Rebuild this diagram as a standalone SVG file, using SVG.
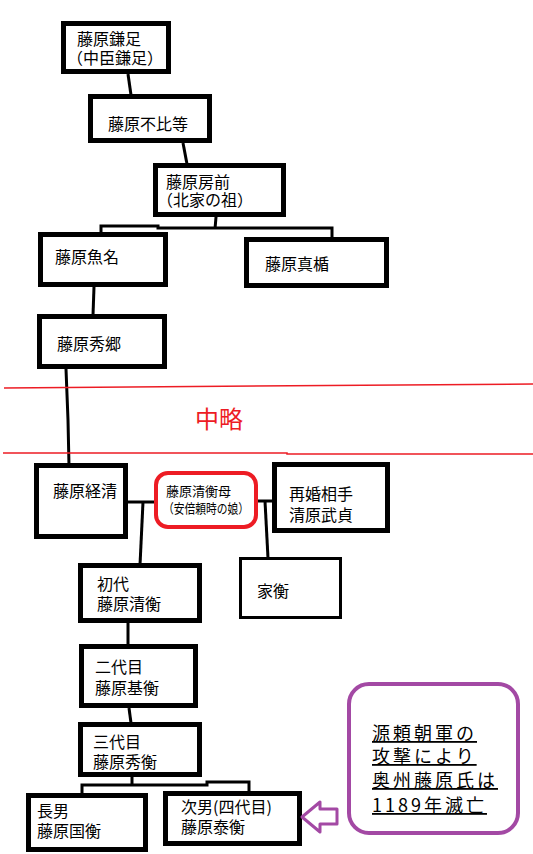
<svg xmlns="http://www.w3.org/2000/svg" width="533" height="854" viewBox="0 0 533 854">
<style>
.box{fill:#fff;stroke:#000;stroke-width:5}
.thin{fill:#fff;stroke:#000;stroke-width:3}
.t{font-family:"Noto Sans CJK JP","Noto Sans",sans-serif;font-size:16px;fill:#000}
.s{font-family:"Noto Sans CJK JP","Noto Sans",sans-serif;font-size:13px;fill:#000}
.n{font-family:"Noto Sans CJK JP","Noto Sans",sans-serif;font-size:18px;fill:#000;letter-spacing:3px;text-decoration:underline}
.c{fill:none;stroke:#000;stroke-width:3}
.r{fill:none;stroke:#ed1c24;stroke-width:1.5}
</style>
<rect width="533" height="854" fill="#fff"/>
<g id="connectors">
<path class="c" d="M128,74 L131,95"/>
<path class="c" d="M183,143 L187,164"/>
<path class="c" d="M216,217 L215,229"/>
<path class="c" d="M101,233 L101,226 L158,226 L158,228 L332,228 L332,238"/>
<path class="c" d="M94,287 L93,315"/>
<path class="c" d="M66,369 L68,420 L69,466"/>
<path class="c" d="M125,502 L156,502"/>
<path class="c" d="M143,502 L140,565"/>
<path class="c" d="M256,501 L274,501"/>
<path class="c" d="M265,501 L268,558"/>
<path class="c" d="M128,623 L128,645"/>
<path class="c" d="M129,708 L131,723"/>
<path class="c" d="M132,777 L132,784"/>
<path class="c" d="M82,795 L82,785 L207,785 L207,782 L249,782 L249,794"/>
</g>
<g id="separator">
<path class="r" d="M4,388 L533,384"/>
<path class="r" d="M3,453 L287,453 L287,454 L533,454"/>
<text x="195" y="428" font-family="'Noto Sans CJK JP','Noto Sans',sans-serif" font-size="24" fill="#ed1c24">中略</text>
</g>
<g id="kamatari"><rect class="box" x="63.5" y="23.5" width="105" height="48"/><text class="t" x="77" y="45">藤原鎌足</text><text class="t" x="67" y="64">（中臣鎌足）</text></g>
<g id="fuhito"><rect class="box" x="90.5" y="96.5" width="119" height="44"/><text class="t" x="108" y="130">藤原不比等</text></g>
<g id="fusasaki"><rect class="box" x="155.5" y="165.5" width="128" height="49"/><text class="t" x="166" y="188">藤原房前</text><text class="t" x="157" y="206">（北家の祖）</text></g>
<g id="uona"><rect class="box" x="40.5" y="234.5" width="125" height="50"/><text class="t" x="55" y="263">藤原魚名</text></g>
<g id="matate"><rect class="box" x="246.5" y="239.5" width="140" height="46"/><text class="t" x="265" y="270">藤原真楯</text></g>
<g id="hidesato"><rect class="box" x="39.5" y="316.5" width="125" height="50"/><text class="t" x="57" y="350">藤原秀郷</text></g>
<g id="tsunekiyo"><rect class="box" x="36.5" y="465.5" width="89" height="71"/><text class="t" x="53" y="497">藤原経清</text></g>
<g id="mother"><rect x="156" y="473" width="100" height="54" rx="12" fill="#fff" stroke="#ed1c24" stroke-width="4"/><text class="s" x="166" y="496">藤原清衡母</text><text class="s" x="163" y="513" textLength="86" lengthAdjust="spacingAndGlyphs">（安倍頼時の娘）</text></g>
<g id="takesada"><rect class="box" x="274.5" y="464.5" width="113" height="66"/><text class="t" x="289" y="500">再婚相手</text><text class="t" x="289" y="521">清原武貞</text></g>
<g id="kiyohira"><rect class="box" x="80.5" y="565.5" width="119" height="55"/><text class="t" x="97" y="590">初代</text><text class="t" x="97" y="610">藤原清衡</text></g>
<g id="iehira"><rect class="thin" x="240.5" y="558.5" width="100" height="59"/><text class="t" x="257" y="597" font-size="17">家衡</text></g>
<g id="motohira"><rect class="box" x="81.5" y="646.5" width="114" height="59"/><text class="t" x="95" y="673">二代目</text><text class="t" x="95" y="694">藤原基衡</text></g>
<g id="hidehira"><rect class="box" x="80.5" y="724.5" width="119" height="50"/><text class="t" x="93" y="748">三代目</text><text class="t" x="93" y="768">藤原秀衡</text></g>
<g id="kunihira"><rect class="box" x="28.5" y="795.5" width="117" height="54"/><text class="t" x="37" y="817">長男</text><text class="t" x="37" y="837">藤原国衡</text></g>
<g id="yasuhira"><rect class="box" x="165.5" y="793.5" width="134" height="50"/><text class="t" x="181" y="813">次男(四代目)</text><text class="t" x="181" y="833">藤原泰衡</text></g>
<g id="arrow"><polygon points="302,817 320,802 320,809 337,809 337,824 320,824 320,832" fill="#fff" stroke="#a349a4" stroke-width="3" stroke-linejoin="round"/></g>
<g id="note"><rect x="349" y="684" width="169" height="149" rx="20" fill="#fff" stroke="#a349a4" stroke-width="4"/>
<text class="n" x="372" y="740">源頼朝軍の</text>
<text class="n" x="372" y="763">攻撃により</text>
<text class="n" x="372" y="787">奥州藤原氏は</text>
<text class="n" x="372" y="812">1189年滅亡</text></g>
</svg>
